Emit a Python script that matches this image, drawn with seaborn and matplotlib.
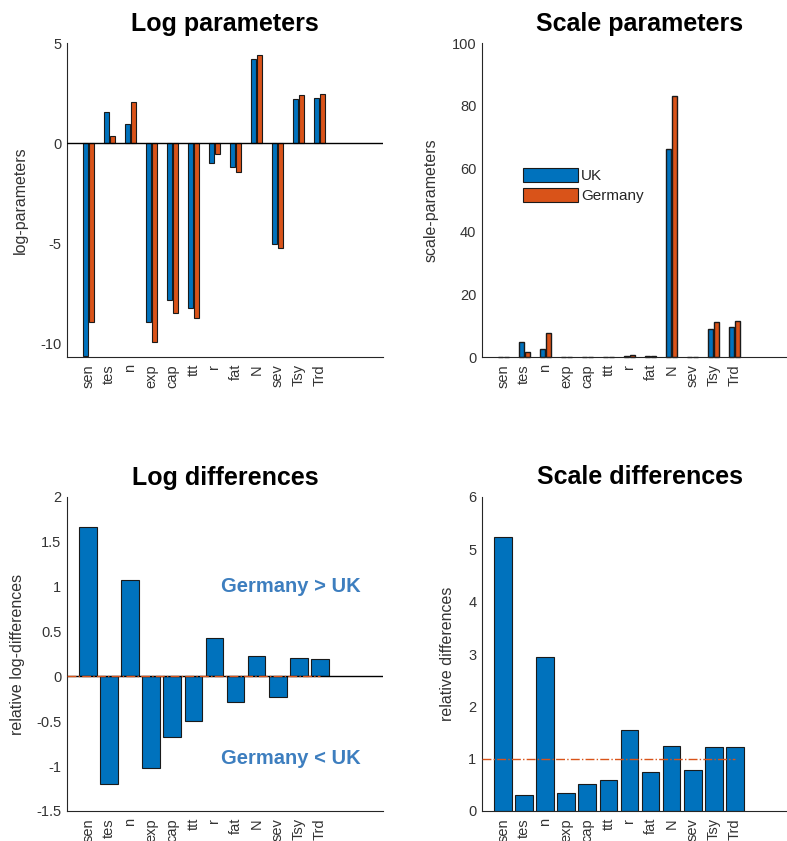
import numpy as np
import pandas as pd
import matplotlib
matplotlib.use("Agg")
import matplotlib.pyplot as plt
from matplotlib.patches import Patch
import seaborn as sns

# Parameter names
params = ["sen", "tes", "n", "exp", "cap", "ttt", "r", "fat", "N", "sev", "Tsy", "Trd"]

# Log-parameters per country
uk_log = [-10.60, 1.55, 0.98, -8.90, -7.80, -8.23, -0.96, -1.19, 4.19, -5.00, 2.20, 2.27]
de_log = [-8.93, 0.35, 2.06, -9.90, -8.47, -8.70, -0.54, -1.45, 4.42, -5.22, 2.40, 2.44]

# Scale-parameters per country
uk_scale = [0.00003, 4.7, 2.65, 0.00014, 0.0004, 0.00027, 0.38, 0.30, 66.3, 0.0067, 9.0, 9.7]
de_scale = [0.00013, 1.6, 7.75, 0.00005, 0.0002, 0.00017, 0.58, 0.24, 83.1, 0.0054, 11.1, 11.5]

# Relative differences (Germany vs UK)
log_diff = [1.67, -1.195, 1.076, -1.02, -0.68, -0.495, 0.432, -0.283, 0.227, -0.227, 0.205, 0.194]
scale_diff = [5.24, 0.30, 2.94, 0.35, 0.51, 0.60, 1.54, 0.74, 1.25, 0.79, 1.22, 1.22]

countries = ["UK", "Germany"]
colors = {"UK": "#0072BD", "Germany": "#D95319"}
annot_color = "#3D7EBF"
axis_color = "#262626"
tick_color = "#333333"

sns.set_theme(style="white")
plt.rcParams["font.family"] = ["Liberation Sans", "DejaVu Sans"]
plt.rcParams["axes.unicode_minus"] = False

log_df = pd.DataFrame({
    "param": params * 2,
    "value": uk_log + de_log,
    "country": ["UK"] * len(params) + ["Germany"] * len(params),
})
scale_df = pd.DataFrame({
    "param": params * 2,
    "value": uk_scale + de_scale,
    "country": ["UK"] * len(params) + ["Germany"] * len(params),
})
ldiff_df = pd.DataFrame({"param": params, "value": log_diff})
sdiff_df = pd.DataFrame({"param": params, "value": scale_diff})

W, H = 787, 841
fig = plt.figure(figsize=(W / 100, H / 100), dpi=100)

aw, ah = 316 / W, 314 / H
ax_tl = fig.add_axes([67 / W, 1 - 357 / H, aw, ah])
ax_tr = fig.add_axes([482 / W, 1 - 357 / H, aw, ah])
ax_bl = fig.add_axes([67 / W, 1 - 811 / H, aw, ah])
ax_br = fig.add_axes([482 / W, 1 - 811 / H, aw, ah])

edge_kw = dict(edgecolor="#1a1a1a", linewidth=0.8)

sns.barplot(data=log_df, x="param", y="value", hue="country", hue_order=countries,
            palette=colors, saturation=1, width=0.57, gap=0.15, ax=ax_tl,
            legend=False, **edge_kw)
sns.barplot(data=scale_df, x="param", y="value", hue="country", hue_order=countries,
            palette=colors, saturation=1, width=0.57, gap=0.15, ax=ax_tr,
            legend=False, **edge_kw)
sns.barplot(data=ldiff_df, x="param", y="value", color=colors["UK"], saturation=1,
            width=0.84, ax=ax_bl, **edge_kw)
sns.barplot(data=sdiff_df, x="param", y="value", color=colors["UK"], saturation=1,
            width=0.84, ax=ax_br, **edge_kw)

# Near-zero scale bars still show their outline on the axis
for p in ax_tr.patches:
    p.set_clip_on(False)
    p.set_linewidth(1.0)

# Reference lines
ax_tl.axhline(0, color="black", linewidth=1.0, zorder=5)
ax_bl.axhline(0, color="black", linewidth=1.0, zorder=5)
ax_bl.plot([-1, 11], [0, 0], color="#D95319", linestyle="-.", linewidth=1.0, zorder=6)
ax_br.plot([-1, 11], [1, 1], color="#D95319", linestyle="-.", linewidth=1.0, zorder=6)

# Limits and ticks
ax_tl.set_ylim(-10.65, 5)
ax_tl.set_yticks([-10, -5, 0, 5])
ax_tr.set_ylim(0, 100)
ax_tr.set_yticks([0, 20, 40, 60, 80, 100])
ax_bl.set_ylim(-1.5, 2)
ax_bl.set_yticks([-1.5, -1, -0.5, 0, 0.5, 1, 1.5, 2])
ax_bl.set_yticklabels(["-1.5", "-1", "-0.5", "0", "0.5", "1", "1.5", "2"])
ax_br.set_ylim(0, 6)
ax_br.set_yticks([0, 1, 2, 3, 4, 5, 6])

titles = ["Log parameters", "Scale parameters", "Log differences", "Scale differences"]
ylabels = ["log-parameters", "scale-parameters", "relative log-differences", "relative differences"]
label_x = [-0.123, -0.136, -0.133, -0.085]

for ax, title, yl, lx in zip((ax_tl, ax_tr, ax_bl, ax_br), titles, ylabels, label_x):
    ax.set_xlim(-1, 14)
    ax.set_title(title, fontsize=18, fontweight="bold", pad=9, color="black")
    ax.set_xlabel("")
    ax.set_ylabel(yl, fontsize=11.5, color=tick_color)
    ax.yaxis.set_label_coords(lx, 0.5)
    ax.set_xticks(range(len(params)))
    ax.set_xticklabels(params, rotation=90, fontsize=10.5, color=tick_color)
    ax.tick_params(axis="both", direction="in", length=4, width=0.8, colors=axis_color,
                   labelcolor=tick_color, pad=4)
    ax.tick_params(axis="x", pad=5)
    ax.tick_params(axis="y", labelsize=10.5)
    for side in ("top", "right"):
        ax.spines[side].set_visible(False)
    for side in ("left", "bottom"):
        ax.spines[side].set_color(axis_color)
        ax.spines[side].set_linewidth(0.8)
    ax.set_facecolor("white")

# Legend for the country series
handles = [Patch(facecolor=colors[c], edgecolor="#1a1a1a", linewidth=0.8, label=c)
           for c in countries]
ax_tr.legend(handles=handles, loc="upper left", bbox_to_anchor=(0.13, 0.602),
             frameon=False, fontsize=11, handlelength=3.6, handleheight=1.0,
             handletextpad=0.2, labelspacing=0.35, borderpad=0, borderaxespad=0)

# Direction annotations
ax_bl.text(9.63, 1.0, "Germany > UK", color=annot_color, fontsize=14.5,
           fontweight="bold", ha="center", va="center")
ax_bl.text(9.63, -0.91, "Germany < UK", color=annot_color, fontsize=14.5,
           fontweight="bold", ha="center", va="center")

fig.savefig("out.png", dpi=100, facecolor="white")
